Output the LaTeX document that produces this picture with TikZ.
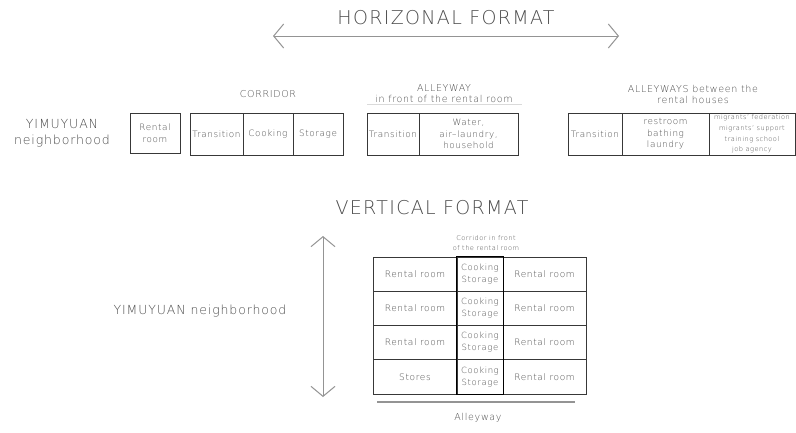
\documentclass[tikz,border=0pt]{standalone}
\usepackage{fontspec}
\setmainfont{DejaVu Sans ExtraLight}[LetterSpace=7]
\usetikzlibrary{arrows.meta}

\definecolor{ink}{gray}{0.30}
\definecolor{frame}{gray}{0.22}
\definecolor{guide}{gray}{0.58}

\tikzset{
  txt/.style={text=ink, inner sep=0pt, align=center},
  title/.style={txt, font=\fontsize{19}{22}\selectfont},
  label/.style={txt, font=\fontsize{9.5}{11}\selectfont},
  small/.style={txt, font=\fontsize{6.6}{10}\selectfont},
  cell/.style 2 args={draw=frame, line width=0.9pt, txt,
    font=\fontsize{8.8}{11.5}\selectfont,
    minimum width=#1, minimum height=#2},
  span/.style={draw=guide, line width=1pt,
    {Straight Barb[length=10pt,width=24pt]}-{Straight Barb[length=10pt,width=24pt]}},
}

\begin{document}
\begin{tikzpicture}[x=1pt,y=-1pt]
\useasboundingbox (0,0) rectangle (796,432);

% ---------- horizontal format ----------
\node[title] (htitle) at (446,18) {HORIZONAL FORMAT};
\coordinate (hL) at (273,36);
\coordinate (hR) at (619,36);
\draw[span] (hL) -- (hR);

\node[txt, font=\fontsize{12.5}{16}\selectfont] (hyim) at (62,133) {YIMUYUAN\\neighborhood};

% rental room
\node[cell={50pt}{40pt}] (hroom) at (155,133) {Rental\\room};

% corridor
\node[label] (corrhead) at (268,94) {CORRIDOR};
\node[cell={53pt}{42pt}] (ctrans) at (216.5,134) {Transition};
\node[cell={50pt}{42pt}] (ccook) at (268,134) {Cooking};
\node[cell={50pt}{42pt}] (cstor) at (318,134) {Storage};

% alleyway in front of the rental room
\node[label] (alleyhead) at (444,93.5) {ALLEYWAY\\in front of the rental room};
\coordinate (ulA) at (367,104);
\coordinate (ulB) at (522,104);
\draw[guide!35, line width=0.5pt] (ulA) -- (ulB);
\node[cell={52pt}{42pt}] (atrans) at (393,134) {Transition};
\node[cell={99pt}{42pt}] (awater) at (468.5,134) {Water,\\air--laundry,\\household};

% alleyways between the rental houses
\node[label] (betweenhead) at (693,94.5) {ALLEYWAYS between the\\rental houses};
\node[cell={54pt}{42pt}] (btrans) at (595,134) {Transition};
\node[cell={87pt}{42pt}] (bbath) at (665.5,134) {restroom\\bathing\\laundry};
\node[cell={86pt}{42pt}, font=\fontsize{6.6}{10.7}\selectfont] (bserv) at (752,134)
  {migrants' federation\\migrants' support\\training school\\job agency};

% ---------- vertical format ----------
\node[title] (vtitle) at (432,208) {VERTICAL FORMAT};
\coordinate (vT) at (323,236);
\coordinate (vB) at (323,397);
\draw[span] (vT) -- (vB);

\node[txt, font=\fontsize{12.5}{16}\selectfont] (vyim) at (200,311) {YIMUYUAN neighborhood};

\node[small] (corrv) at (486,243) {Corridor in front\\of the rental room};

% left column
\node[cell={84pt}{34.25pt}, font=\fontsize{9}{11}\selectfont] (l1) at (415,274.1) {Rental room};
\node[cell={84pt}{34.25pt}, font=\fontsize{9}{11}\selectfont] (l2) at (415,308.4) {Rental room};
\node[cell={84pt}{34.25pt}, font=\fontsize{9}{11}\selectfont] (l3) at (415,342.6) {Rental room};
\node[cell={84pt}{34.25pt}, font=\fontsize{9}{11}\selectfont] (l4) at (415,376.9) {Stores};
% middle column
\node[cell={46pt}{34.25pt}, font=\fontsize{8.5}{12}\selectfont] (m1) at (480,274.1) {Cooking\\Storage};
\node[cell={46pt}{34.25pt}, font=\fontsize{8.5}{12}\selectfont] (m2) at (480,308.4) {Cooking\\Storage};
\node[cell={46pt}{34.25pt}, font=\fontsize{8.5}{12}\selectfont] (m3) at (480,342.6) {Cooking\\Storage};
\node[cell={46pt}{34.25pt}, font=\fontsize{8.5}{12}\selectfont] (m4) at (480,376.9) {Cooking\\Storage};
% right column
\node[cell={83pt}{34.25pt}, font=\fontsize{9}{11}\selectfont] (r1) at (544.5,274.1) {Rental room};
\node[cell={83pt}{34.25pt}, font=\fontsize{9}{11}\selectfont] (r2) at (544.5,308.4) {Rental room};
\node[cell={83pt}{34.25pt}, font=\fontsize{9}{11}\selectfont] (r3) at (544.5,342.6) {Rental room};
\node[cell={83pt}{34.25pt}, font=\fontsize{9}{11}\selectfont] (r4) at (544.5,376.9) {Rental room};
% corridor strip outlined heavier
\draw[black, line width=1.6pt] (m1.north west) rectangle (m4.south east);

% alleyway
\coordinate (aL) at (377,402);
\coordinate (aR) at (575,402);
\draw[guide, line width=2pt] (aL) -- (aR);
\node[label] (alleyv) at (478,418) {Alleyway};
\end{tikzpicture}
\end{document}
